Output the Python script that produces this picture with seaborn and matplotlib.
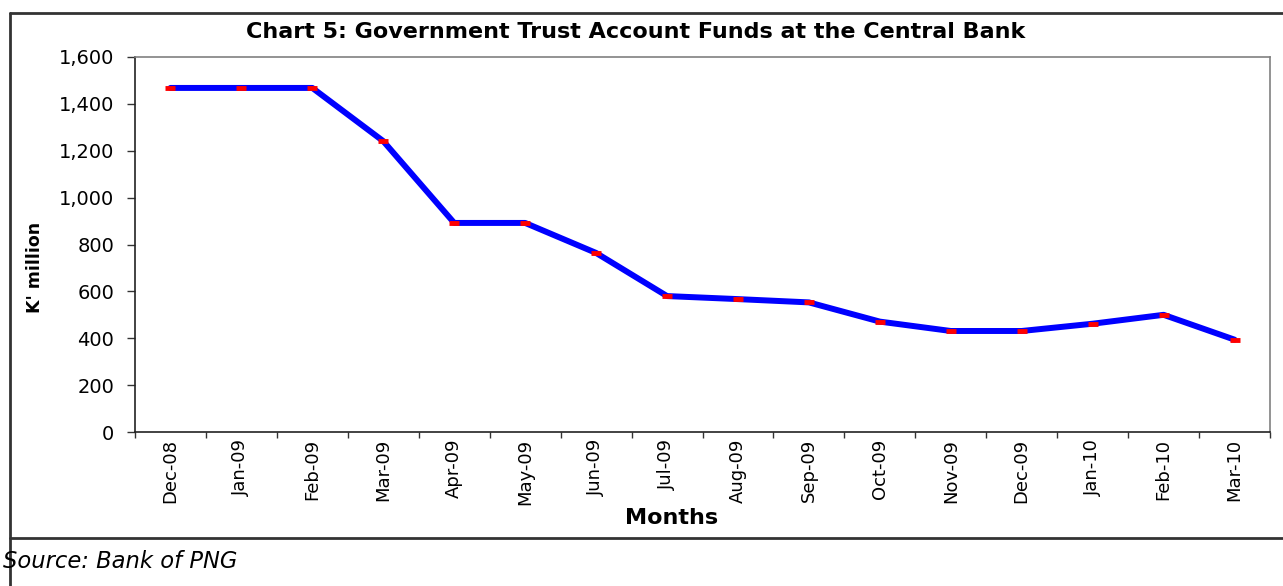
import matplotlib
matplotlib.use("Agg")
import matplotlib.pyplot as plt
from matplotlib.lines import Line2D
import seaborn as sns
import pandas as pd
import numpy as np

months = ["Dec-08", "Jan-09", "Feb-09", "Mar-09", "Apr-09", "May-09", "Jun-09", "Jul-09",
          "Aug-09", "Sep-09", "Oct-09", "Nov-09", "Dec-09", "Jan-10", "Feb-10", "Mar-10"]
funds = [1468, 1468, 1468, 1241, 892, 892, 764, 580,
         567, 553, 471, 431, 431, 462, 500, 394]
y_ticks = [0, 200, 400, 600, 800, 1000, 1200, 1400, 1600]

sns.set_theme(style="white")
plt.rcParams["font.family"] = ["DejaVu Sans"]
plt.rcParams.update({"text.color": "black", "axes.labelcolor": "black",
                     "xtick.color": "black", "ytick.color": "black"})

W, H = 1283, 586
fig = plt.figure(figsize=(W / 100, H / 100), dpi=100)
ax = fig.add_axes([135 / W, 1 - 432 / H, (1270 - 135) / W, (432 - 57) / H])

df = pd.DataFrame({"pos": np.arange(len(months)), "value": funds})
sns.lineplot(data=df, x="pos", y="value", ax=ax, color="#0000ff", linewidth=4.3,
             solid_joinstyle="round", solid_capstyle="round")
ax.plot(df["pos"], df["value"], linestyle="none", marker="_", markersize=7.5,
        markeredgewidth=3.5, color="#ff0000", zorder=5)

ax.set_xlim(-0.5, len(months) - 0.5)
ax.set_ylim(0, 1600)
ax.set_yticks(y_ticks)
ax.set_yticklabels([f"{v:,}" for v in y_ticks], fontsize=14)
ax.set_xticks(np.arange(len(months)))
ax.set_xticklabels(months, rotation=90, fontsize=13)
ax.tick_params(axis="x", which="major", length=0, pad=5)
ax.set_xticks(np.arange(len(months) + 1) - 0.5, minor=True)
ax.tick_params(axis="x", which="minor", length=4, width=1, color="#333333", bottom=True)
ax.tick_params(axis="y", length=6, width=1, color="#333333", left=True, pad=9)

for side in ["left", "bottom"]:
    ax.spines[side].set_color("#222222")
    ax.spines[side].set_linewidth(1.2)
for side in ["top", "right"]:
    ax.spines[side].set_color("#808080")
    ax.spines[side].set_linewidth(1.2)

ax.set_xlabel("")
ax.set_ylabel("")
fig.text(35 / W, 1 - 267 / H, "K' million", rotation=90, fontsize=12.5, fontweight="bold",
         ha="center", va="center")
fig.text(672 / W, 1 - 518 / H, "Months", fontsize=16, fontweight="bold",
         ha="center", va="center")
fig.text(636 / W, 1 - 32 / H, "Chart 5: Government Trust Account Funds at the Central Bank",
         fontsize=16, fontweight="bold", ha="center", va="center")
fig.text(3 / W, 1 - 562 / H, "Source: Bank of PNG", fontsize=16.3, style="italic",
         ha="left", va="center")

# Outer frame around the chart
frame_kw = dict(color="#333333", linewidth=2, transform=fig.transFigure)
fig.add_artist(Line2D([10 / W, 1.0], [1 - 13 / H, 1 - 13 / H], **frame_kw))
fig.add_artist(Line2D([10 / W, 1.0], [1 - 538 / H, 1 - 538 / H], **frame_kw))
fig.add_artist(Line2D([10 / W, 10 / W], [1 - 13 / H, 0.0], **frame_kw))

fig.savefig("out.png", dpi=100)
